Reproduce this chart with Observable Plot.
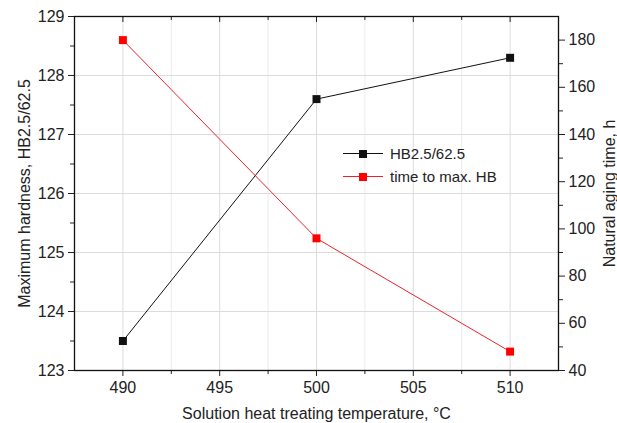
<!DOCTYPE html>
<html>
<head>
<meta charset="utf-8">
<script src="https://cdn.jsdelivr.net/npm/d3@7"></script>
<script src="https://cdn.jsdelivr.net/npm/@observablehq/plot@0.6"></script>
<style>
  body { margin: 0; background: #fff; }
  #chart { position: relative; width: 617px; height: 423px; font-family: "Liberation Sans", Arial, sans-serif; }
  .legend { position: absolute; left: 343px; top: 142px; font-size: 15px; color: #222; }
  .legend .row { display: flex; align-items: center; height: 23px; }
  .legend .sw { position: relative; width: 40px; height: 10px; margin-right: 7px; }
  .legend .ln { position: absolute; left: 0; right: 0; top: 4.5px; height: 1px; }
  .legend .mk { position: absolute; left: 16px; top: 1px; width: 8px; height: 8px; }
</style>
</head>
<body>
<div id="chart"></div>
<script>
// Solution heat treating temperature (°C)
const temperatures = [490, 500, 510];
// Maximum hardness HB2.5/62.5 (left axis)
const hardness = [123.5, 127.6, 128.3];
// Natural aging time to reach max. HB, hours (right axis)
const agingTime = [180, 96, 48];

// Axis ticks
const xTicks = [490, 495, 500, 505, 510];
const xMinorTicks = [492.5, 497.5, 502.5, 507.5];
const hardnessTicks = [123, 124, 125, 126, 127, 128, 129];
const hardnessMinorTicks = [123.5, 124.5, 125.5, 126.5, 127.5, 128.5];
const timeTicks = [40, 60, 80, 100, 120, 140, 160, 180];
const timeMinorTicks = [50, 70, 90, 110, 130, 150, 170];

const seriesNames = ["HB2.5/62.5", "time to max. HB"];
const seriesColors = ["#111111", "#ff0000"];
const redLine = "#e8232a";

// Map the aging-time axis (40–190 h) onto the hardness axis (123–129)
const timeToHardness = d3.scaleLinear().domain([40, 190]).range([123, 129]);

const rows = temperatures.map((t, i) => ({ t, hb: hardness[i], time: agingTime[i] }));

const font = '"Liberation Sans", Arial, sans-serif';

const plot = Plot.plot({
  width: 617,
  height: 423,
  marginTop: 16,
  marginRight: 59,
  marginBottom: 53,
  marginLeft: 74,
  style: { fontFamily: font, fontSize: "16px", color: "#222", background: "#fff" },
  x: { domain: [487.5, 512.5] },
  y: { domain: [123, 129] },
  marks: [
    Plot.gridX(xMinorTicks, { stroke: "#ebebeb", strokeOpacity: 1 }),
    Plot.gridX(xTicks, { stroke: "#dcdcdc", strokeOpacity: 1 }),
    Plot.gridY(hardnessTicks.slice(1, -1), { stroke: "#dcdcdc", strokeOpacity: 1 }),

    // bottom axis
    Plot.axisX(xTicks, {
      tickSize: 6, tickPadding: 5, fontSize: 16,
      tickFormat: d3.format("d"),
      label: "Solution heat treating temperature, °C",
      labelAnchor: "center", labelArrow: "none", labelOffset: 48
    }),
    Plot.axisX(xMinorTicks, { tickSize: 4, fill: "none" }),
    // top frame ticks, pointing inward
    Plot.axisX(xTicks, { anchor: "top", tickSize: -5, fill: "none" }),
    Plot.axisX(xMinorTicks, { anchor: "top", tickSize: -3, fill: "none" }),

    // left axis: hardness
    Plot.axisY(hardnessTicks, {
      anchor: "left", tickSize: 6, tickPadding: 4, fontSize: 16,
      tickFormat: d3.format("d"),
      label: "Maximum hardness, HB2.5/62.5",
      labelAnchor: "center", labelArrow: "none", labelOffset: 56
    }),
    Plot.axisY(hardnessMinorTicks, { anchor: "left", tickSize: 4, fill: "none" }),

    // right axis: aging time
    Plot.axisY(timeTicks.map(timeToHardness), {
      anchor: "right", tickSize: 6, tickPadding: 4, fontSize: 16,
      tickFormat: (d) => d3.format("d")(Math.round(timeToHardness.invert(d))),
      label: "Natural aging time, h",
      labelAnchor: "center", labelArrow: "none", labelOffset: 56
    }),
    Plot.axisY(timeMinorTicks.map(timeToHardness), { anchor: "right", tickSize: 4, fill: "none" }),

    Plot.frame({ stroke: "#111", strokeWidth: 1.3 }),

    Plot.line(rows, { x: "t", y: "hb", stroke: seriesColors[0], strokeWidth: 1 }),
    Plot.line(rows, { x: "t", y: (d) => timeToHardness(d.time), stroke: redLine, strokeWidth: 1 }),
    Plot.dot(rows, { x: "t", y: "hb", symbol: "square", r: 4.5, fill: seriesColors[0] }),
    Plot.dot(rows, { x: "t", y: (d) => timeToHardness(d.time), symbol: "square", r: 4.5, fill: seriesColors[1] })
  ]
});

const chart = document.getElementById("chart");
chart.appendChild(plot);

// Legend inside the plot area
const legend = document.createElement("div");
legend.className = "legend";
seriesNames.forEach((name, i) => {
  const row = document.createElement("div");
  row.className = "row";
  const sw = document.createElement("span");
  sw.className = "sw";
  const ln = document.createElement("span");
  ln.className = "ln";
  ln.style.background = i === 0 ? seriesColors[0] : redLine;
  const mk = document.createElement("span");
  mk.className = "mk";
  mk.style.background = seriesColors[i];
  sw.appendChild(ln);
  sw.appendChild(mk);
  const label = document.createElement("span");
  label.textContent = name;
  row.appendChild(sw);
  row.appendChild(label);
  legend.appendChild(row);
});
chart.appendChild(legend);
</script>
</body>
</html>
